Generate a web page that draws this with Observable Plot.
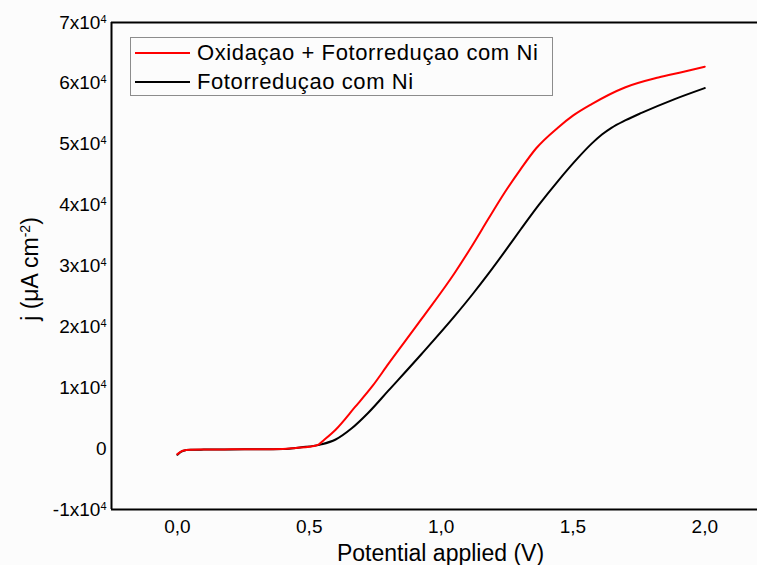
<!DOCTYPE html>
<html>
<head>
<meta charset="utf-8">
<script src="https://cdn.jsdelivr.net/npm/d3@7"></script>
<script src="https://cdn.jsdelivr.net/npm/@observablehq/plot@0.6"></script>
<style>
  html, body { margin: 0; padding: 0; background: #fcfcfc; }
  #wrap { position: relative; width: 757px; height: 565px; font-family: "Liberation Sans", Arial, sans-serif; }
  #legend { position: absolute; left: 130px; top: 37px; width: 421px; height: 57px; border: 1px solid #8c8c8c; background: #fcfcfc; }
  .row { position: absolute; left: 0; height: 28px; display: flex; align-items: center; }
  .sw { width: 55px; height: 0; border-top: 2px solid; margin-left: 4px; margin-right: 7px; }
  .lab { font-size: 22px; letter-spacing: 0.6px; color: #000; white-space: nowrap; }
</style>
</head>
<body>
<div id="wrap"></div>
<script>
// Series: Oxidaçao + Fotorreduçao com Ni (red)
const redV = [0, 0.02, 0.05, 0.1, 0.2, 0.3, 0.4, 0.45, 0.5, 0.535, 0.553, 0.6, 0.673, 0.74, 0.8, 0.926, 1.052, 1.12, 1.18, 1.24, 1.3, 1.36, 1.444, 1.5, 1.571, 1.697, 1.824, 1.92, 2.0];
const redJ = [-900, -350, -180, -150, -120, -100, -60, 120, 300, 660, 1310, 3100, 6800, 10300, 13910, 21300, 28900, 33500, 37800, 42000, 45800, 49300, 52760, 54700, 56600, 59330, 60970, 61900, 62730];
// Series: Fotorreduçao com Ni (black)
const blackV = [0, 0.02, 0.05, 0.1, 0.2, 0.3, 0.4, 0.47, 0.546, 0.6, 0.66, 0.724, 0.8, 0.926, 1.052, 1.12, 1.179, 1.242, 1.305, 1.37, 1.444, 1.52, 1.571, 1.61, 1.646, 1.7, 1.76, 1.886, 2.0];
const blackJ = [-1000, -380, -200, -160, -130, -110, -80, 210, 700, 1500, 3300, 5900, 9520, 15550, 21800, 25400, 28700, 32400, 36200, 40000, 44000, 47800, 50100, 51600, 52700, 53950, 55150, 57420, 59230];

const seriesNames = ["Oxidaçao + Fotorreduçao com Ni", "Fotorreduçao com Ni"];
const seriesColors = ["#ff0000", "#000000"];

const xTicks = [0, 0.5, 1.0, 1.5, 2.0];
const yTicks = [-10000, 0, 10000, 20000, 30000, 40000, 50000, 60000, 70000];
const xLabel = "Potential applied (V)";
const yLabel = "j (μA cm⁻²)";

const redData = redV.map((v, i) => ({v, j: redJ[i]}));
const blackData = blackV.map((v, i) => ({v, j: blackJ[i]}));

const supMap = {"⁰":"0","¹":"1","²":"2","³":"3","⁴":"4","⁵":"5","⁶":"6","⁷":"7","⁸":"8","⁹":"9","⁻":"-"};

const chart = Plot.plot({
  width: 757,
  height: 565,
  marginLeft: 111,
  marginTop: 22,
  marginBottom: 56,
  marginRight: 0,
  style: {fontFamily: "Liberation Sans, Arial, sans-serif", fontSize: "19px", background: "transparent", color: "#000", overflow: "visible"},
  x: {domain: [-0.25, 2.2], ticks: xTicks, tickFormat: d => d.toFixed(1).replace(".", ","), tickSize: 0, tickPadding: 10, label: null},
  y: {domain: [-10000, 70000], ticks: yTicks, tickFormat: d => d === 0 ? "0" : `${d / 10000}x10⁴`, tickSize: 0, tickPadding: 5, label: null},
  marks: [
    Plot.line(blackData, {x: "v", y: "j", stroke: seriesColors[1], strokeWidth: 2, curve: "monotone-x"}),
    Plot.line(redData, {x: "v", y: "j", stroke: seriesColors[0], strokeWidth: 2, curve: "monotone-x"}),
    Plot.ruleY([70000, -10000], {stroke: "#000", strokeWidth: 2}),
    Plot.ruleX([-0.25], {stroke: "#000", strokeWidth: 2}),
    Plot.text([xLabel], {text: d => d, frameAnchor: "bottom", textAnchor: "middle", lineAnchor: "middle", dy: 44, dx: 6, fontSize: 23, fill: "#000"}),
    Plot.text([yLabel], {text: d => d, frameAnchor: "left", textAnchor: "middle", lineAnchor: "middle", rotate: -90, dx: -81, dy: 3, fontSize: 23, fill: "#000"})
  ]
});

const wrap = document.getElementById("wrap");
wrap.appendChild(chart);

// Turn unicode superscripts into real raised tspans
d3.select(chart).selectAll("text").each(function () {
  const el = this;
  const s = el.textContent;
  const m = s.match(/^(.*?)([⁰¹²³⁴⁵⁶⁷⁸⁹⁻]+)(.*)$/);
  if (!m) return;
  const big = parseFloat(getComputedStyle(el).fontSize) || 19;
  while (el.firstChild) el.removeChild(el.firstChild);
  const supSize = Math.round(big * 0.6);
  const rise = Math.round(big * 0.34);
  const ns = "http://www.w3.org/2000/svg";
  const t1 = document.createElementNS(ns, "tspan");
  t1.textContent = m[1];
  el.appendChild(t1);
  const t2 = document.createElementNS(ns, "tspan");
  t2.textContent = m[2].split("").map(c => supMap[c]).join("");
  t2.setAttribute("font-size", supSize);
  t2.setAttribute("dy", -rise);
  el.appendChild(t2);
  if (m[3]) {
    const t3 = document.createElementNS(ns, "tspan");
    t3.textContent = m[3];
    t3.setAttribute("dy", rise);
    el.appendChild(t3);
  }
});

const legend = document.createElement("div");
legend.id = "legend";
seriesNames.forEach((name, i) => {
  const row = document.createElement("div");
  row.className = "row";
  row.style.top = (i === 0 ? 1 : 30) + "px";
  const sw = document.createElement("div");
  sw.className = "sw";
  sw.style.borderTopColor = seriesColors[i];
  const lab = document.createElement("span");
  lab.className = "lab";
  lab.textContent = name;
  row.appendChild(sw);
  row.appendChild(lab);
  legend.appendChild(row);
});
wrap.appendChild(legend);
</script>
</body>
</html>
